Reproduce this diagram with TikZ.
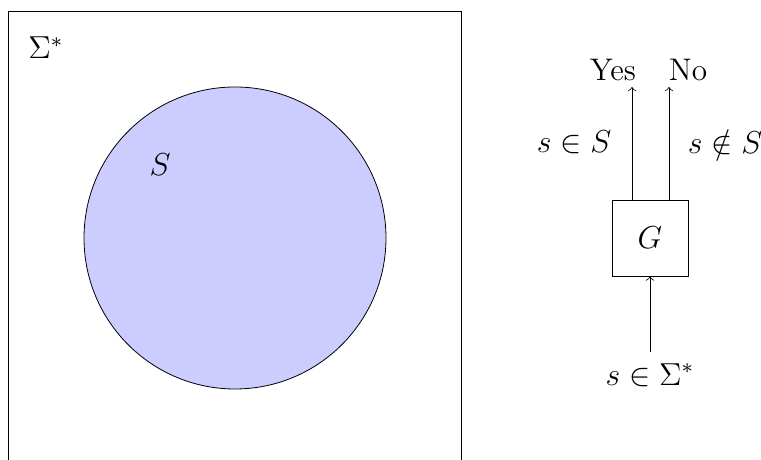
\documentclass[tikz,border=0pt]{standalone}
\usepackage{amssymb}
\begin{document}
\begin{tikzpicture}[x=0.013274cm,y=-0.013274cm,
  every node/.style={font=\fontsize{11.8}{14}\selectfont},
  frame/.style={draw,line width=0.3pt},
  setS/.style={draw,fill=blue!20,line width=0.3pt},
  gbox/.style={draw,line width=0.3pt,minimum width=76*0.013274cm,minimum height=76*0.013274cm,inner sep=0pt},
  conn/.style={->,line width=0.3pt},
  lbl/.style={inner sep=0pt}]
\useasboundingbox (0,0) rectangle (761,460);
\begin{scope}
\clip (0,0) rectangle (761,460);
\draw[frame] (8,11) rectangle (461.5,465);
\end{scope}
\node[lbl] (sig) at (46,48) {$\Sigma^*$};
\draw[setS] (235,238) circle[radius=151];
\node[lbl] (Slbl) at (160,165) {$S$};
\node[gbox] (G) at (650,238) {$G$};
\coordinate (in) at (650,352);
\node[lbl,anchor=north] (inlbl) at (650,363) {$s\in\Sigma^*$};
\draw[conn] (in) -- (G.south);
\coordinate (yt) at (632,87);
\coordinate (nt) at (669,87);
\draw[conn] (G.north -| yt) -- (yt);
\draw[conn] (G.north -| nt) -- (nt);
\node[lbl] (yes) at (613,70) {Yes};
\node[lbl] (no) at (688,70) {No};
\node[lbl] (inS) at (574,142) {$s\in S$};
\node[lbl] (notinS) at (725,142) {$s\notin S$};
\end{tikzpicture}
\end{document}
